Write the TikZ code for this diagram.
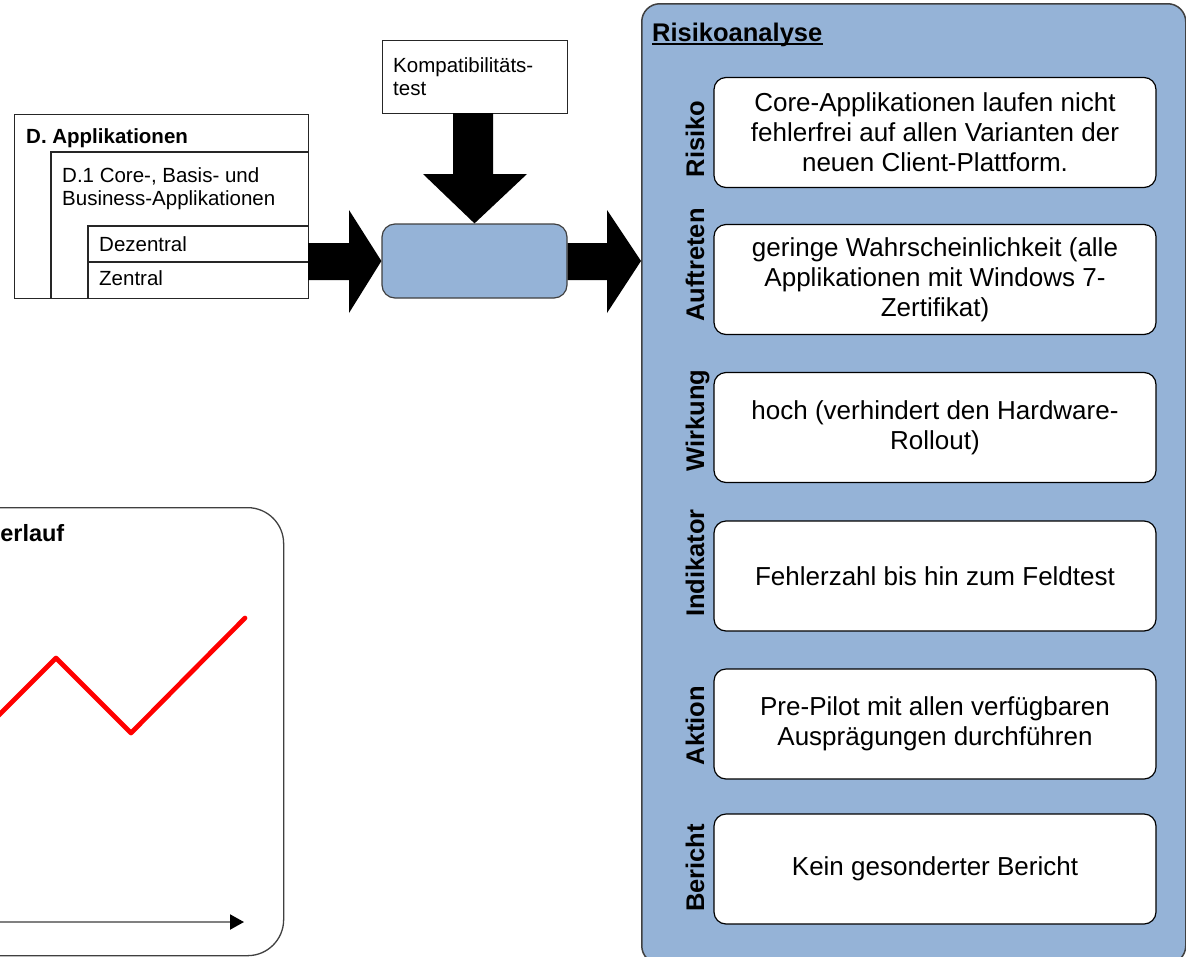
\documentclass[tikz,border=0pt]{standalone}
\usepackage{fontspec}
\setmainfont{Liberation Sans}
\usetikzlibrary{arrows.meta,calc}
\definecolor{panelblue}{HTML}{95B3D7}
\begin{document}
\begin{tikzpicture}[x=1pt,y=-1pt,
  thinbox/.style={draw=black!85, line width=1.2pt},
  small/.style={font=\fontsize{20.5}{23.5}\selectfont, inner sep=0pt, anchor=base west},
  smallbold/.style={font=\fontsize{20.5}{23.5}\selectfont\bfseries, inner sep=0pt, anchor=base west},
  entry/.style={draw=black, line width=1.2pt, fill=white, rounded corners=12pt, minimum width=442pt, minimum height=110pt, align=center, inner sep=0pt, font=\fontsize{26}{30}\selectfont},
  rowlabel/.style={rotate=90, anchor=base, inner sep=0pt, font=\fontsize{25.5}{28}\selectfont\bfseries},
  blockarrow/.style={fill=black},
  bluebox/.style={draw=black!75, fill=panelblue},
]
\useasboundingbox (0,0) rectangle (1186,956);
\clip (0,0) rectangle (1186,956);

% Risk analysis panel
\node[bluebox, line width=1.5pt, rounded corners=18pt, minimum width=544pt, minimum height=960pt, anchor=north west, inner sep=0pt] (panel) at (641,3) {};
\node[font=\fontsize{25.5}{28}\selectfont\bfseries, anchor=base west, inner sep=0pt] (ratitle) at (652,41) {Risikoanalyse};
\draw[line width=1.9pt] ($(ratitle.base west)+(0,3)$) -- ($(ratitle.base east)+(0,3)$);

\node[entry] (e1) at (935,132.5) {Core-Applikationen laufen nicht\\fehlerfrei auf allen Varianten der\\neuen Client-Plattform.};
\node[entry] (e2) at (935,279.5) {geringe Wahrscheinlichkeit (alle\\Applikationen mit Windows 7-\\Zertifikat)};
\node[entry] (e3) at (935,427.5) {hoch (verhindert den Hardware-\\Rollout)};
\node[entry] (e4) at (935,576) {Fehlerzahl bis hin zum Feldtest};
\node[entry] (e5) at (935,724) {Pre-Pilot mit allen verfügbaren\\Ausprägungen durchführen};
\node[entry] (e6) at (935,869) {Kein gesonderter Bericht};

\node[rowlabel] (l1) at (704,139) {Risiko};
\node[rowlabel] (l2) at (704,265) {Auftreten};
\node[rowlabel] (l3) at (704,420.5) {Wirkung};
\node[rowlabel] (l4) at (704,563) {Indikator};
\node[rowlabel] (l5) at (704,725.5) {Aktion};
\node[rowlabel] (l6) at (704,868) {Bericht};

% Applications box
\node[thinbox, anchor=north west, minimum width=294pt, minimum height=184pt, inner sep=0pt] (appl) at (14,114) {};
\draw[thinbox] (51,298) |- (308,152);
\draw[thinbox] (88,298) |- (308,226);
\draw[thinbox] (88,262) -- (308,262);
\node[smallbold] (t1) at (26,143) {D. Applikationen};
\node[small] (t2) at (62,182) {D.1 Core-, Basis- und};
\node[small] (t3) at (62,205.5) {Business-Applikationen};
\node[small] (t4) at (99,251) {Dezentral};
\node[small] (t5) at (99,285) {Zentral};

% Compatibility test box
\node[thinbox, anchor=north west, minimum width=185pt, minimum height=73pt, inner sep=0pt] (komp) at (382,40) {};
\node[small] (k1) at (393,72) {Kompatibilitäts-};
\node[small] (k2) at (393,95) {test};

% process box
\node[bluebox, line width=1.2pt, rounded corners=13pt, minimum width=185pt, minimum height=74pt, inner sep=0pt] (proc) at (474.5,261) {};

% block arrows
\fill[blockarrow] (308,243) -- (349,243) -- (349,210) -- (proc.west) -- (349,313) -- (349,280) -- (308,280) -- cycle;
\fill[blockarrow] (proc.east |- 0,243) -- (607,243) -- (607,210) -- (panel.west |- proc.east) -- (607,313) -- (607,280) -- (proc.east |- 0,280) -- cycle;
\fill[blockarrow] (453,113) -- (493,113) -- (493,174) -- (527,174) -- (proc.north) -- (423,174) -- (453,174) -- cycle;

% chart
\node[draw=black!75, line width=1.3pt, rounded corners=36pt, minimum width=383pt, minimum height=448pt, anchor=north west, inner sep=0pt] (chart) at (-100,507) {};
\node[font=\fontsize{23.5}{28}\selectfont\bfseries, anchor=base east, inner sep=0pt] (ctitle) at (64.5,541.7) {erlauf};
\draw[red, line width=4.7pt, line cap=round, line join=round] (-30,744) -- (56,658) -- (131,733) -- (245,618);
\coordinate (axstart) at (-20,922);
\coordinate (axend) at (244,922);
\draw[black!50, line width=2pt, -{Triangle[length=14pt,width=15pt,color=black]}] (axstart) -- (axend);
\end{tikzpicture}
\end{document}
